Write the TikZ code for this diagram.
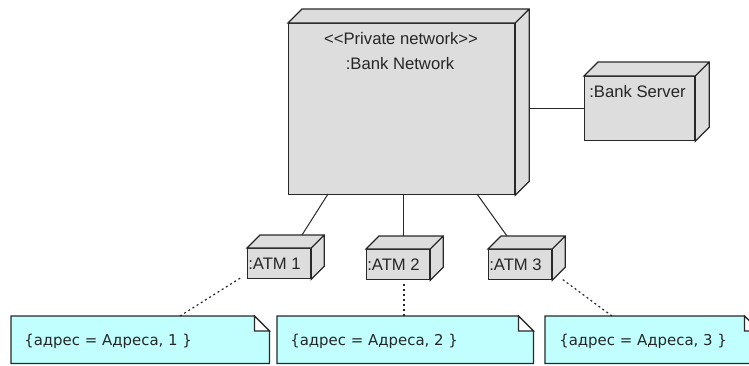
\documentclass[tikz,border=0pt]{standalone}
\usepackage{fontspec}
\setmainfont{Liberation Sans}
\newfontfamily\notefont{DejaVu Sans}
\usetikzlibrary{calc}

\definecolor{nodegray}{RGB}{221,221,221}
\definecolor{notecyan}{RGB}{193,255,255}
\definecolor{edgeink}{RGB}{40,40,40}

% a deployment node: front face is the node, top and side faces are added
\newcommand\extrude[2]{%
  \draw[face] (#1.north west) -- ++(#2,-#2) -- ($(#1.north east)+(#2,-#2)$)
    -- ($(#1.south east)+(#2,-#2)$) -- (#1.south east) -- (#1.north east) -- cycle
    (#1.north east) -- ++(#2,-#2);}

% a note with a folded top right corner
\newcommand\dogear[2]{%
  \draw[notebody] (#1.north west) -- ($(#1.north east)+(-#2,0)$) -- ($(#1.north east)+(0,#2)$)
    -- (#1.south east) -- (#1.south west) -- cycle;
  \draw[notefold] ($(#1.north east)+(-#2,0)$) -- ($(#1.north east)+(-#2,#2)$)
    -- ($(#1.north east)+(0,#2)$) -- cycle;}

\begin{document}
\begin{tikzpicture}[x=0.75pt,y=-0.75pt,
  face/.style={draw=edgeink, fill=nodegray, line width=0.9pt, line join=miter},
  box/.style={face, rectangle, inner sep=0pt, anchor=north west},
  atmbox/.style={box, minimum width={63*0.75pt}, minimum height={30*0.75pt}},
  notebox/.style={rectangle, inner sep=0pt, anchor=north west,
    minimum height={47*0.75pt}},
  notebody/.style={draw=edgeink, fill=notecyan, line width=0.9pt},
  notefold/.style={draw=edgeink, fill=white, line width=0.9pt, line join=miter},
  lbl/.style={inner sep=0pt, font=\fontsize{12.5}{15}\selectfont, text=black!85},
  notetext/.style={inner sep=0pt, anchor=west, font=\notefont\fontsize{11.2}{13}\selectfont, text=black!85},
  wire/.style={draw=edgeink, line width=0.75pt},
  anchorline/.style={draw=edgeink, line width=0.9pt, dash pattern=on 1.5pt off 2.2pt}]
\useasboundingbox (0,0) rectangle (749,365);
\clip (0,0) rectangle (749,365);

% nodes
\node[box, minimum width={226*0.75pt}, minimum height={171*0.75pt}] (bn) at (288,23) {};
\extrude{bn}{14}
\node[box, minimum width={110*0.75pt}, minimum height={64*0.75pt}] (srv) at (584,76) {};
\extrude{srv}{14}
\node[atmbox] (atm1) at (247,248) {};
\extrude{atm1}{13}
\node[atmbox] (atm2) at (366,249) {};
\extrude{atm2}{13}
\node[atmbox] (atm3) at (488,249) {};
\extrude{atm3}{13}

% labels
\node[lbl] (bnst) at (401,39) {<{}<Private network>{}>};
\node[lbl] (bnname) at (400,64) {:Bank Network};
\node[lbl, anchor=west] (srvname) at (589,92) {:Bank Server};
\node[lbl, anchor=west] (a1name) at (248,264) {:ATM 1};
\node[lbl, anchor=west] (a2name) at (367,265) {:ATM 2};
\node[lbl, anchor=west] (a3name) at (489,265) {:ATM 3};

% communication paths
\coordinate (bnside) at ($(bn.east)+(14,-14)$);
\draw[wire] (bnside |- srv.west) -- (srv.west);
\coordinate (bn1) at (328,194);
\coordinate (bn2) at (403,194);
\coordinate (bn3) at (477,194);
\coordinate (t1) at (302,235);
\coordinate (t2) at (403,236);
\coordinate (t3) at (507,236);
\draw[wire] (bn1) -- (t1);
\draw[wire] (bn2) -- (t2);
\draw[wire] (bn3) -- (t3);

% notes
\node[notebox, minimum width={258*0.75pt}] (n1) at (11,316) {};
\dogear{n1}{15}
\node[notebox, minimum width={256*0.75pt}] (n2) at (277,316) {};
\dogear{n2}{15}
\node[notebox, minimum width={214*0.75pt}] (n3) at (545,316) {};
\dogear{n3}{15}
\node[notetext] (n1t) at (24,341) {\{адрес = Адреса, 1 \}};
\node[notetext] (n2t) at (290,341) {\{адрес = Адреса, 2 \}};
\node[notetext] (n3t) at (559,341) {\{адрес = Адреса, 3 \}};

% note anchors
\coordinate (e1) at (242,277);
\coordinate (e2) at (404,283);
\coordinate (e3) at (562,279);
\draw[anchorline] (n1.north -| 180,0) -- (e1);
\draw[anchorline] (n2.north -| 404,0) -- (e2);
\draw[anchorline] (n3.north -| 612,0) -- (e3);
\end{tikzpicture}
\end{document}
